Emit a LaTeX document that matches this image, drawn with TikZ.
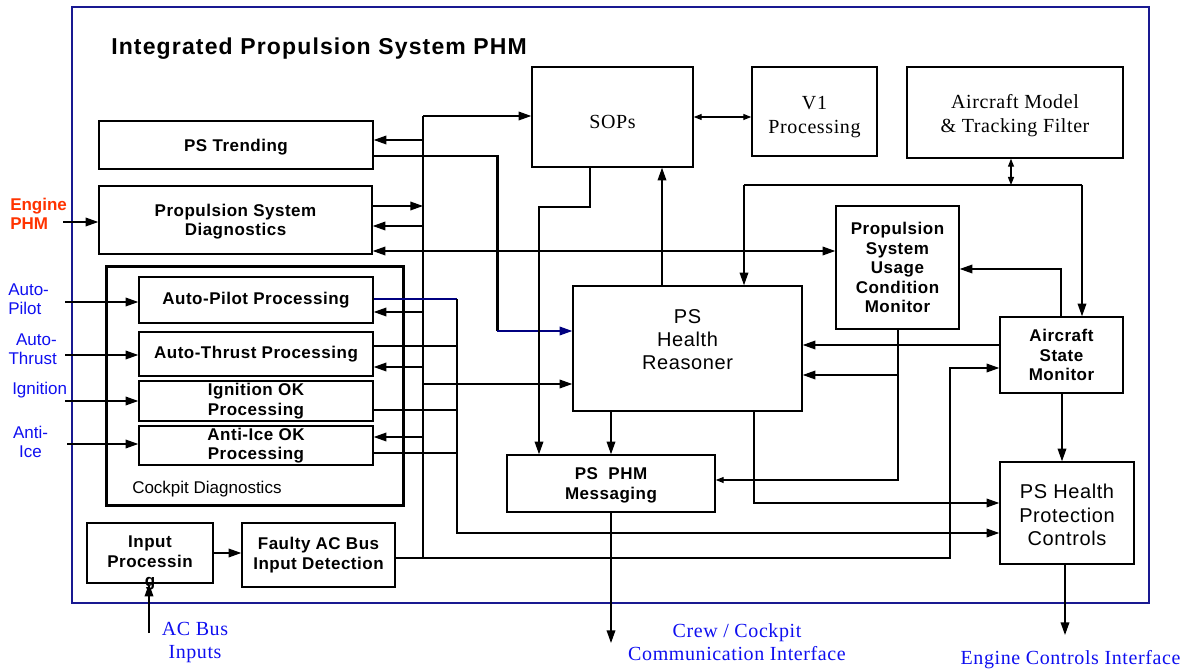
\documentclass[tikz,border=0pt]{standalone}
\usepackage{fontspec}
\usetikzlibrary{arrows.meta}
\newfontfamily\sansf{Liberation Sans}
\newfontfamily\sansw[LetterSpace=3]{Liberation Sans}
\newfontfamily\sanst[LetterSpace=5]{Liberation Sans}
\newfontfamily\seriff[LetterSpace=3]{Liberation Serif}
\definecolor{frameblue}{RGB}{25,25,145}
\definecolor{navyline}{RGB}{0,0,128}
\definecolor{lblblue}{RGB}{15,15,240}
\definecolor{lblred}{RGB}{255,51,0}
\begin{document}
\begin{tikzpicture}[x=0.75pt,y=-0.75pt,
  wh/.style 2 args={minimum width=#1*0.75pt,minimum height=#2*0.75pt},
  box/.style={draw,line width=1.1pt,inner sep=0pt,align=center},
  bsans/.style={font=\sansw\bfseries\fontsize{12.75pt}{14.6pt}\selectfont},
  rsans/.style={font=\sansw\fontsize{15pt}{17.5pt}\selectfont},
  serifbox/.style={font=\seriff\fontsize{15pt}{18pt}\selectfont},
  conn/.style={line width=1pt},
  arr/.style={conn,-{Triangle[length=9.5pt,width=6.5pt]}},
  darr/.style={conn,{Triangle[length=9.5pt,width=6.5pt]}-{Triangle[length=9.5pt,width=6.5pt]}},
  arrs/.style={conn,-{Triangle[length=6pt,width=4.5pt]}},
  darrs/.style={conn,{Triangle[length=6pt,width=4.5pt]}-{Triangle[length=6pt,width=4.5pt]}},
  extlabel/.style={text=lblblue,inner sep=0pt,align=center,font=\seriff\fontsize{15pt}{17.25pt}\selectfont},
  inlabel/.style={text=lblblue,inner sep=0pt,font=\sansf\fontsize{12.75pt}{14.25pt}\selectfont}]
\useasboundingbox (0,0) rectangle (1193,670);

% frame and containers
\node[draw=frameblue,line width=1.2pt,inner sep=0pt,wh={1077}{596}] (frame) at (610.5,305) {};
\node[draw,line width=2.25pt,inner sep=0pt,wh={297}{238}] (cockpit) at (254.5,386) {};
\node[anchor=west,inner sep=0pt,font=\sanst\bfseries\fontsize{17.25pt}{20pt}\selectfont] (title) at (111,49) {Integrated Propulsion System PHM};
\node[anchor=west,inner sep=0pt,font=\sansf\fontsize{12.75pt}{15pt}\selectfont] (cdlabel) at (132,489) {Cockpit Diagnostics};

% boxes
\node[box,bsans,wh={274}{48}] (trend) at (236,145) {\rule{0pt}{12pt}PS Trending};
\node[box,bsans,wh={273}{68}] (psd) at (235.5,220) {\rule{0pt}{12pt}Propulsion System\\Diagnostics};
\node[box,bsans,wh={234}{46}] (ap) at (256,300) {Auto-Pilot Processing};
\node[box,bsans,wh={234}{44}] (at) at (256,354) {Auto-Thrust Processing};
\node[box,bsans,wh={234}{40}] (ig) at (256,401) {Ignition OK\\Processing};
\node[box,bsans,wh={234}{39}] (ai) at (256,445.5) {Anti-Ice OK\\Processing};
\node[box,wh={126}{60}] (inp) at (150,553) {};
\node[bsans,align=center,inner sep=0pt] (inptxt) at (150,563) {Input\\Processin\\g};
\node[box,bsans,wh={153}{64}] (faulty) at (318.5,555) {Faulty AC Bus\\Input Detection};
\node[box,serifbox,wh={161}{100}] (sops) at (612.5,117) {\rule{0pt}{17pt}SOPs};
\node[box,serifbox,wh={125}{89}] (v1) at (814.5,111.5) {\rule{0pt}{17.5pt}V1\\Processing};
\node[box,serifbox,wh={216}{91}] (acm) at (1015,112.5) {\rule{0pt}{15pt}Aircraft Model\\\& Tracking Filter};
\node[box,rsans,wh={229}{125}] (reas) at (687.5,348.5) {PS\\Health\\Reasoner\rule[-13.5pt]{0pt}{13.5pt}};
\node[box,bsans,wh={123}{123}] (psucm) at (897.5,267.5) {Propulsion\\System\\Usage\\Condition\\Monitor};
\node[box,bsans,wh={123}{76}] (asm) at (1061.5,355) {Aircraft\\State\\Monitor};
\node[box,bsans,wh={208}{57}] (msg) at (611,483.5) {\rule{0pt}{12pt}PS\ \ PHM\\Messaging};
\node[box,rsans,wh={134}{102}] (pshpc) at (1067,513) {\rule{0pt}{14pt}PS Health\\Protection\\Controls};

% external labels
\node[anchor=west,align=left,inner sep=0pt,text=lblred,font=\sansf\bfseries\fontsize{12.75pt}{14.25pt}\selectfont] (englbl) at (10,213.5) {Engine\\PHM};
\node[inlabel,anchor=west,align=left] (aplbl) at (8,299.5) {Auto-\\Pilot};
\node[inlabel,anchor=east,align=right] (atlbl) at (57,349) {Auto-\\Thrust};
\node[inlabel,anchor=west] (iglbl) at (12,390) {Ignition};
\node[inlabel,align=center] (ailbl) at (30.5,442) {Anti-\\Ice};
\node[extlabel] (aclbl) at (195,642.5) {AC Bus\\Inputs};
\node[extlabel] (ccilbl) at (737,642.5) {Crew / Cockpit\\Communication Interface};
\node[extlabel] (ecilbl) at (1070.5,660) {Engine Controls Interface};

% inputs
\coordinate (engsrc) at (63,222);
\coordinate (apsrc) at (65,302);
\coordinate (atsrc) at (65,355);
\coordinate (igsrc) at (65,401);
\coordinate (aisrc) at (67,444);
\coordinate (acsrc) at (149,633);
\draw[arr] (engsrc) -- (psd.west |- engsrc);
\draw[arr] (apsrc) -- (ap.west |- apsrc);
\draw[arr] (atsrc) -- (at.west |- atsrc);
\draw[arr] (igsrc) -- (ig.west |- igsrc);
\draw[arr] (aisrc) -- (ai.west |- aisrc);
\draw[arr] (acsrc) -- (inp.south -| acsrc);
\draw[arr] (inp.east |- 0,553) -- (faulty.west |- 0,553);

% bus 1
\coordinate (b1top) at (423,116);
\coordinate (b1bot) at (423,558);
\draw[conn] (b1top) -- (b1bot);
\draw[arr] (b1top) -- (sops.west |- b1top);
\draw[arr] (423,140) -- (trend.east |- 0,140);
\draw[arr] (psd.east |- 0,206) -- (423,206);
\draw[arr] (423,226) -- (psd.east |- 0,226);
\draw[arr] (423,312) -- (ap.east |- 0,312);
\draw[arr] (423,367) -- (at.east |- 0,367);
\draw[arr] (423,384) -- (reas.west |- 0,384);
\draw[arr] (423,437) -- (ai.east |- 0,437);
\draw[arr] (faulty.east |- 0,558) -- (950,558) -- (950,368) -- (asm.west |- 0,368);

% bus 2
\draw[conn,navyline] (ap.east |- 0,299) -- (457,299);
\draw[conn] (at.east |- 0,346) -- (457,346);
\draw[conn] (ig.east |- 0,410) -- (457,410);
\draw[conn] (ai.east |- 0,453) -- (457,453);
\draw[arr] (457,299) -- (457,533) -- (pshpc.west |- 0,533);

% trending to reasoner
\draw[conn] (trend.east |- 0,156) -- (497,156);
\draw[line width=2.25pt] (497,155) -- (497,331);
\draw[arr,navyline] (497,331) -- (reas.west |- 0,331);

% other connectors
\draw[darr] (psd.east |- 0,251) -- (psucm.west |- 0,251);
\draw[arr] (reas.north -| 662,0) -- (sops.south -| 662,0);
\draw[arr] (sops.south -| 590,0) -- (590,207) -- (539,207) -- (msg.north -| 539,0);
\draw[darrs] (sops.east |- 0,117) -- (v1.west |- 0,117);
\draw[darrs] (acm.south -| 1011,0) -- (1011,185);
\draw[conn] (744,185) -- (1082,185);
\draw[arr] (744,185) -- (reas.north -| 744,0);
\draw[arr] (1082,185) -- (asm.north -| 1082,0);
\draw[arr] (asm.north -| 1061,0) -- (1061,269) -- (psucm.east |- 0,269);
\draw[arr] (asm.west |- 0,345) -- (reas.east |- 0,345);
\draw[arrs] (psucm.south -| 898,0) -- (898,480) -- (msg.east |- 0,480);
\draw[arr] (898,375) -- (reas.east |- 0,375);
\draw[arr] (reas.south -| 611,0) -- (msg.north -| 611,0);
\draw[arr] (reas.south -| 754,0) -- (754,503) -- (pshpc.west |- 0,503);
\draw[arr] (asm.south -| 1062,0) -- (pshpc.north -| 1062,0);
\coordinate (eci) at (1065,635);
\coordinate (cci) at (611,643);
\draw[arr] (pshpc.south -| eci) -- (eci);
\draw[arr] (msg.south -| cci) -- (cci);
\end{tikzpicture}
\end{document}
